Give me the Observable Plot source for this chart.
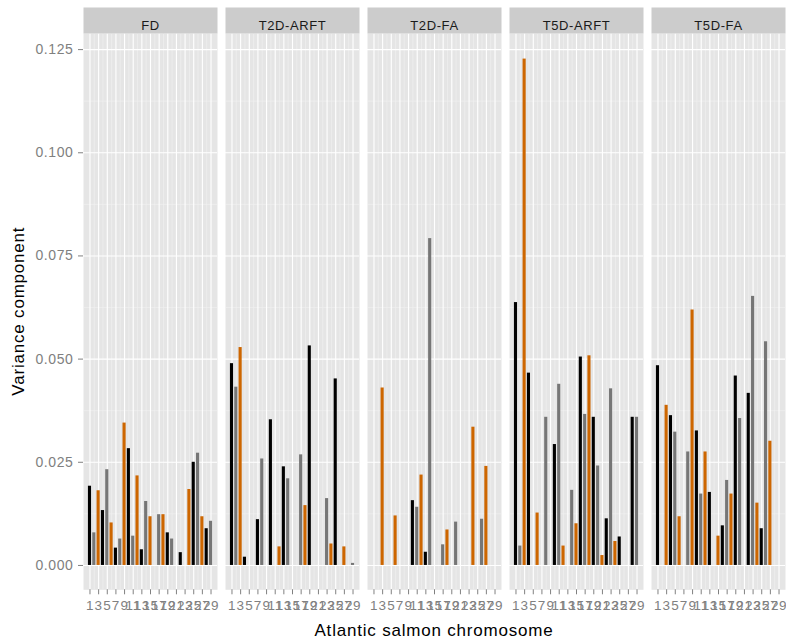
<!DOCTYPE html>
<html><head><meta charset="utf-8">
<script src="https://cdn.jsdelivr.net/npm/d3@7"></script>
<script src="https://cdn.jsdelivr.net/npm/@observablehq/plot@0.6"></script>
<style>
body{margin:0;background:#fff}
svg{font-family:"Liberation Sans",Arial,sans-serif}
</style>
</head><body><div id="chart"></div>
<script>
const panels = ["FD","T2D-ARFT","T2D-FA","T5D-ARFT","T5D-FA"];
const chromosomes = [1,2,3,4,5,6,7,8,9,10,11,12,13,14,15,16,17,18,19,20,21,22,23,24,25,26,27,28,29];
const fd      = [0.0192,0.0079,0.0181,0.0133,0.0232,0.0103,0.0042,0.0064,0.0345,0.0283,0.0071,0.0217,0.0038,0.0155,0.0118,0,0.0123,0.0123,0.0079,0.0064,0,0.0031,0,0.0184,0.0250,0.0272,0.0118,0.0089,0.0107];
const t2dArft = [0.0489,0.0432,0.0528,0.0020,0,0,0.0111,0.0258,0,0.0353,0,0.0045,0.0239,0.0210,0,0,0.0268,0.0145,0.0532,0,0,0,0.0162,0.0052,0.0452,0,0.0045,0,0.0005];
const t2dFa   = [0,0,0.0430,0,0,0.0120,0,0,0,0.0157,0.0141,0.0219,0.0032,0.0792,0,0,0.0050,0.0086,0,0.0105,0,0,0,0.0335,0,0.0112,0.0240,0,0];
const t5dArft = [0.0637,0.0047,0.1227,0.0466,0,0.0127,0,0.0359,0,0.0293,0.0439,0.0047,0,0.0182,0.0101,0.0505,0.0366,0.0508,0.0359,0.0241,0.0024,0.0113,0.0428,0.0058,0.0069,0,0,0.0359,0.0359];
const t5dFa   = [0.0484,0,0.0388,0.0363,0.0323,0.0118,0,0.0275,0.0619,0.0326,0.0173,0.0275,0.0177,0,0.0071,0.0096,0.0206,0.0173,0.0459,0.0356,0,0.0417,0.0652,0.0151,0.0089,0.0542,0.0301,0,0];
const series = [fd, t2dArft, t2dFa, t5dArft, t5dFa];
const colorGroups = ["g1","g2","g3"];
const colorRange = ["#000000","#767676","#CD6600"];
const yTicks = [0,0.025,0.05,0.075,0.1,0.125];
const yMinor = [0.0125,0.0375,0.0625,0.0875,0.1125];
const xTicks = [1,3,5,7,9,11,13,15,17,19,21,23,25,27,29];
const xMinor = [2,4,6,8,10,12,14,16,18,20,22,24,26,28];

const rows = panels.flatMap((p,i) => chromosomes.map((c,j) => ({
  panel: p, chr: c, value: series[i][j], group: colorGroups[(c-1)%3]
}))).filter(d => d.value > 0);

const W = 786, H = 644, mL = 82, mR = 0, mT = 33, mB = 54.7;
const frameH = H - mT - mB;

const plot = Plot.plot({
  width: W, height: H,
  marginLeft: mL, marginRight: mR, marginTop: mT, marginBottom: mB,
  style: {background: "#fff", fontFamily: "Liberation Sans, Arial, sans-serif"},
  fx: {domain: panels, paddingInner: 0.0534, paddingOuter: 0, axis: null, label: null},
  x: {domain: [-0.5, 30.5], axis: null},
  y: {domain: [-0.0059, 0.1289], axis: null},
  color: {domain: colorGroups, range: colorRange},
  marks: [
    Plot.frame({fill: "#E5E5E5"}),
    Plot.gridY(yMinor, {stroke: "#F2F2F2", strokeOpacity: 1, strokeWidth: 0.6}),
    Plot.gridX(xMinor, {stroke: "#F2F2F2", strokeOpacity: 1, strokeWidth: 0.6}),
    Plot.gridY(yTicks, {stroke: "#FFFFFF", strokeOpacity: 1, strokeWidth: 1.1}),
    Plot.gridX(xTicks, {stroke: "#FFFFFF", strokeOpacity: 1, strokeWidth: 1.1}),
    Plot.rectY(rows, {fx: "panel", x1: d => d.chr - 0.36, x2: d => d.chr + 0.36, y: "value", fill: "group"}),
    Plot.frame({fill: "#CCCCCC", insetTop: -26, insetBottom: frameH}),
    Plot.text(panels, {fx: d => d, text: d => d, frameAnchor: "top", dy: -13, fontSize: 13, fill: "#1a1a1a"}),
    Plot.axisY(yTicks, {tickFormat: d3.format(".3f"), tickSize: 5, tickPadding: 5, fontSize: 14, color: "#808080", label: null}),
    Plot.axisX(xTicks, {tickSize: 5, tickPadding: 6, fontSize: 13.5, color: "#808080", label: null})
  ]
});

const svg = d3.select(plot);
svg.selectAll("text").style("letter-spacing", "0.6px");
svg.append("text")
  .attr("x", mL + (W - mL - mR) / 2).attr("y", 636)
  .attr("text-anchor", "middle")
  .style("font-size", "17px").style("letter-spacing", "0.8px").attr("fill", "#000")
  .text("Atlantic salmon chromosome");
svg.append("text")
  .attr("transform", `translate(18,${mT + frameH / 2}) rotate(-90)`)
  .attr("text-anchor", "middle").attr("dy", "0.35em")
  .style("font-size", "17px").style("letter-spacing", "0.8px").attr("fill", "#000")
  .text("Variance component");

document.getElementById("chart").appendChild(plot);
</script></body></html>
